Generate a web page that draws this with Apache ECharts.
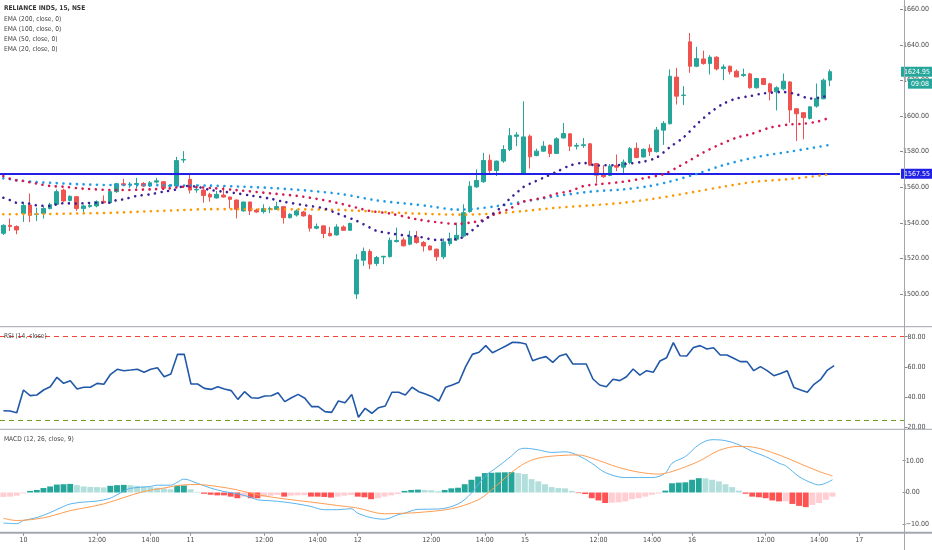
<!DOCTYPE html>
<html>
<head>
<meta charset="utf-8">
<script src="https://cdn.jsdelivr.net/npm/echarts/dist/echarts.min.js"></script>
<style>html,body{margin:0;padding:0;background:#fff}#c{width:932px;height:550px}</style>
</head>
<body>
<div id="c"></div>
<script>
// ---------- categories ----------
const days = ['9','10','11','12','15','16','17'];
const times = ['09:15','09:30','09:45','10:00','10:15','10:30','10:45','11:00','11:15','11:30','11:45','12:00','12:15','12:30','12:45','13:00','13:15','13:30','13:45','14:00','14:15','14:30','14:45','15:00','15:15'];
const tickTimes = ['09:15','12:00','14:00'];

// ---------- OHLC ----------
const open = [1534.1,1538.6,1537.9,1545.3,1550.0,1544.8,1545.3,1548.0,1550.4,1558.4,1552.6,1554.7,1548.0,1549.1,1549.5,1552.1,1551.3,1557.5,1562.0,1561.4,1561.6,1562.1,1560.7,1562.9,1563.1,1560.6,1560.7,1575.3,
1564.4,1558.5,1558.4,1556.0,1554.0,1555.6,1554.5,1552.8,1546.7,1551.7,1547.2,1546.3,1547.6,1547.6,1549.1,1542.9,1544.4,1546.1,1544.2,1537.0,1538.3,1534.1,1533.2,1537.7,1535.8,
1500.0,1519.0,1523.9,1517.2,1520.8,1521.0,1529.5,1530.4,1528.0,1532.1,1528.9,1527.0,1525.2,1520.9,1528.3,1530.8,1532.6,1546.3,1560.2,1563.1,1575.2,1569.4,1574.7,1581.2,1588.6,
1567.7,1588.7,1577.8,1580.3,1583.6,1579.0,1587.7,1590.0,1583.1,1583.4,1584.4,1573.3,1567.2,1566.6,1572.2,1571.3,1573.9,1581.9,1577.0,1581.9,1580.0,1592.1,1595.7,1621.9,1611.6,
1641.7,1628.0,1632.1,1629.5,1633.1,1626.7,1628.0,1625.2,1622.8,1623.7,1615.9,1621.1,1618.1,1613.6,1615.3,1619.2,1604.1,1601.9,1598.7,1605.6,1609.7,1620.2];
const close = [1538.6,1537.9,1536.0,1549.8,1544.2,1545.0,1548.1,1550.2,1557.5,1552.3,1554.9,1548.0,1549.5,1549.8,1551.9,1551.3,1557.5,1562.0,1561.2,1561.8,1562.1,1560.7,1562.5,1563.6,1559.5,1561.1,1575.0,1575.6,
1558.4,1558.8,1555.4,1554.5,1556.0,1554.5,1553.2,1547.6,1551.7,1546.7,1546.1,1548.0,1548.1,1549.1,1542.9,1544.8,1546.7,1543.9,1537.0,1537.9,1534.0,1532.8,1537.7,1535.8,1539.7,
1519.2,1523.9,1516.8,1520.5,1521.2,1530.2,1530.1,1527.1,1532.3,1528.9,1527.0,1524.8,1520.9,1529.3,1531.1,1533.0,1545.7,1560.6,1563.8,1575.0,1569.4,1574.7,1581.2,1589.0,1589.4,
1588.3,1577.1,1580.3,1583.1,1579.0,1587.2,1590.2,1583.1,1583.5,1583.9,1572.4,1566.8,1565.9,1571.9,1571.3,1574.1,1581.7,1576.7,1581.3,1580.0,1592.2,1595.9,1622.4,1611.2,1611.8,
1628.0,1632.3,1629.5,1633.1,1626.5,1627.6,1624.9,1622.0,1623.4,1615.9,1621.1,1617.8,1613.5,1615.9,1619.6,1603.4,1601.3,1599.1,1605.2,1609.9,1620.2,1624.95];
const low = [1533.2,1535.4,1533.6,1540.5,1540.5,1541.0,1542.4,1547.6,1550.0,1551.7,1552.0,1546.7,1545.7,1548.5,1548.7,1551.0,1550.9,1556.9,1560.7,1559.7,1559.3,1560.1,1560.1,1562.1,1558.8,1558.8,1559.7,1573.7,
1556.5,1556.9,1551.3,1551.9,1553.6,1554.1,1548.0,1542.5,1546.3,1544.4,1545.7,1545.2,1545.4,1547.2,1539.6,1542.4,1543.5,1543.5,1535.1,1536.4,1531.3,1532.3,1532.8,1535.5,1535.5,
1497.2,1515.8,1514.0,1515.8,1516.8,1520.5,1528.9,1526.7,1527.4,1528.3,1523.9,1524.6,1518.6,1519.6,1527.0,1529.8,1531.7,1545.7,1559.7,1562.5,1567.2,1566.3,1573.7,1580.3,1583.1,
1567.2,1570.5,1577.4,1579.9,1576.9,1578.8,1587.4,1580.3,1581.2,1582.1,1571.9,1562.5,1565.3,1566.2,1569.0,1567.3,1572.9,1576.3,1576.7,1577.6,1579.5,1583.8,1595.3,1606.5,1606.2,
1624.3,1627.5,1628.9,1623.4,1625.6,1620.2,1623.4,1621.9,1622.0,1615.5,1615.5,1617.4,1608.8,1603.2,1614.4,1596.3,1586.0,1586.9,1598.1,1604.7,1609.4,1616.8];
const high = [1539.2,1542.5,1538.6,1551.3,1556.5,1548.5,1549.5,1551.3,1558.8,1559.2,1555.4,1555.0,1550.2,1551.0,1552.6,1555.4,1558.2,1562.5,1564.8,1562.9,1565.3,1562.9,1563.5,1565.3,1563.5,1561.6,1577.1,1580.3,
1567.6,1561.6,1559.2,1556.9,1557.9,1560.7,1554.7,1553.2,1551.9,1551.9,1548.0,1550.4,1549.1,1551.9,1549.5,1545.4,1547.6,1546.7,1544.8,1539.6,1538.3,1537.7,1539.2,1538.6,1540.1,
1522.4,1526.1,1525.2,1521.4,1521.4,1531.7,1537.3,1531.7,1535.5,1535.4,1529.8,1527.4,1525.5,1531.3,1534.5,1540.1,1550.4,1563.4,1570.0,1579.3,1578.4,1575.0,1583.6,1593.3,1591.1,
1608.3,1589.6,1581.7,1585.9,1584.0,1588.1,1596.1,1590.5,1584.9,1587.7,1584.9,1573.7,1572.4,1573.1,1578.4,1575.6,1582.6,1585.1,1581.9,1584.1,1593.9,1597.2,1626.2,1627.1,1616.8,
1646.7,1638.9,1636.8,1634.2,1633.6,1629.0,1628.4,1626.2,1626.7,1624.3,1621.5,1621.5,1618.7,1616.8,1623.9,1619.6,1604.3,1602.3,1605.6,1618.3,1621.1,1626.2];
const hLine = 1567.55;
const countdown = '09:08';

// ---------- EMAs (read at sample bars: [bar, value]) ----------
const ema200 = [[0,1544.8],[7,1545.0],[12,1545.3],[17,1545.7],[22,1546.5],[27,1547.2],[31,1547.7],[40,1547.6],[49,1547.4],[57,1546.1],[62,1545.2],[69,1544.6],[74,1545.3],[78,1546.6],[83,1548.5],[88,1549.8],[93,1551.3],[98,1553.8],[104,1557.6],[108,1560.3],[113,1563.2],[118,1564.6],[124,1567.3]];
const ema100 = [[0,1565.0],[2,1564.0],[5,1562.9],[7,1562.5],[12,1561.6],[17,1561.2],[22,1561.2],[27,1561.0],[31,1560.9],[36,1560.3],[41,1559.4],[46,1558.0],[51,1556.0],[56,1552.6],[61,1550.6],[64,1549.3],[68,1547.4],[71,1548.0],[74,1549.4],[78,1551.9],[83,1555.0],[88,1557.5],[93,1558.8],[97,1560.7],[100,1563.2],[104,1567.5],[108,1572.4],[113,1577.0],[118,1580.0],[124,1583.8]];
const ema50 = [[0,1566.3],[1,1564.8],[2,1563.8],[3,1563.5],[5,1562.0],[7,1560.7],[9,1560.3],[12,1559.2],[17,1558.4],[22,1558.8],[25,1559.4],[27,1560.3],[29,1560.0],[31,1559.6],[35,1558.4],[40,1556.6],[45,1554.7],[50,1551.3],[55,1546.7],[58,1545.2],[62,1542.0],[65,1540.4],[68,1539.4],[70,1540.1],[72,1541.6],[73,1543.8],[74,1545.1],[76,1548.0],[78,1551.9],[81,1554.1],[83,1556.4],[85,1557.8],[87,1560.6],[89,1561.6],[93,1563.1],[96,1565.0],[99,1567.3],[101,1571.0],[103,1575.2],[105,1579.5],[107,1583.2],[110,1587.9],[112,1589.7],[115,1593.5],[118,1595.3],[120,1595.7],[122,1596.8],[124,1599.1]];
const ema20 = [[0,1554.1],[1,1552.8],[2,1551.3],[3,1551.3],[5,1549.8],[7,1549.5],[8,1550.4],[9,1551.0],[11,1550.8],[12,1551.0],[14,1551.3],[16,1551.3],[17,1552.8],[18,1553.2],[20,1555.1],[22,1556.0],[24,1557.5],[26,1558.8],[27,1560.7],[29,1560.3],[31,1558.5],[33,1557.5],[35,1556.6],[37,1555.4],[40,1553.6],[42,1551.9],[45,1550.0],[48,1548.2],[50,1545.4],[53,1541.1],[55,1537.3],[56,1535.5],[58,1534.1],[60,1533.0],[62,1532.4],[65,1530.4],[68,1530.8],[69,1532.1],[70,1534.9],[71,1537.7],[72,1541.4],[73,1543.8],[75,1549.8],[76,1553.7],[77,1556.9],[78,1560.1],[79,1562.0],[81,1565.3],[83,1568.7],[85,1572.2],[87,1573.7],[89,1572.2],[90,1572.4],[92,1572.4],[93,1572.9],[96,1574.4],[98,1576.7],[100,1582.6],[102,1587.9],[104,1595.3],[106,1601.9],[108,1606.9],[110,1609.9],[112,1611.2],[114,1612.7],[117,1613.5],[119,1612.2],[121,1609.9],[123,1610.8],[124,1612.5]];

// ---------- RSI ----------
const rsi = [31.0,30.8,29.7,44.7,41.0,41.4,44.7,46.9,53.1,49.1,50.9,45.4,46.5,46.5,49.1,48.5,55.1,58.4,57.5,57.9,58.4,56.4,58.4,59.5,53.5,55.3,68.3,68.3,48.7,48.7,45.8,45.1,46.9,45.4,44.3,38.5,43.6,39.6,39.2,40.7,40.9,42.9,37.0,39.6,41.8,39.2,33.7,33.7,30.4,29.9,37.4,36.3,41.8,26.6,32.6,29.3,33.0,34.1,43.2,43.2,41.4,46.5,43.6,
42.0,40.3,37.4,46.5,48.0,49.8,60.2,68.3,69.7,74.1,69.4,71.6,73.8,76.3,76.1,75.2,64.1,65.7,66.8,63.0,67.2,68.5,61.9,61.9,61.9,52.0,48.0,46.9,51.8,50.9,53.5,58.6,54.6,57.5,56.4,63.9,66.1,76.1,67.4,67.2,72.9,74.1,71.9,72.7,67.9,67.9,65.7,63.5,63.5,57.5,60.2,57.5,54.2,55.7,57.5,46.3,44.7,43.2,48.5,51.8,57.9,60.8];
const rsiUpper = 80, rsiLower = 25;
const rsiTicks = [20,40,60,80];

// ---------- MACD ----------
const macdLine = [[0,-9.6],[2,-9.8],[3,-8.8],[5,-7.9],[7,-6.3],[9,-4.4],[10,-3.6],[12,-3.0],[14,-2.7],[16,-1.8],[17,-0.7],[18,0.4],[19,1.3],[22,1.9],[23,2.3],[25,2.3],[26,3.2],[27,4.2],[29,2.9],[31,1.4],[33,0.3],[35,-0.4],[37,-1.5],[38,-2.3],[40,-2.6],[42,-3.0],[44,-3.6],[46,-4.4],[48,-5.4],[50,-5.4],[52,-5.1],[53,-6.5],[55,-7.9],[57,-8.4],[59,-7.0],[60,-6.5],[62,-5.3],[65,-5.2],[68,-3.6],[70,-0.2],[72,5.0],[74,8.2],[76,11.5],[77,13.4],[78,13.9],[80,13.4],[82,12.6],[84,12.8],[86,11.6],[88,9.2],[90,6.3],[93,4.7],[97,4.7],[99,6.1],[100,9.2],[102,11.3],[104,15.0],[106,16.6],[108,16.3],[110,15.0],[112,12.9],[114,11.3],[116,9.2],[117,8.4],[119,5.0],[121,2.9],[122,2.4],[124,4.0]];
const signalLine = [[0,-8.1],[2,-8.8],[5,-8.3],[7,-7.5],[10,-5.7],[12,-4.9],[15,-3.6],[18,-1.6],[21,0.3],[24,1.4],[27,2.4],[29,2.5],[32,1.9],[35,0.8],[38,-0.7],[42,-2.0],[46,-3.0],[50,-4.1],[53,-4.9],[57,-6.7],[60,-6.5],[62,-6.3],[67,-5.1],[71,-2.3],[73,0.8],[76,6.3],[78,9.2],[80,10.8],[83,11.6],[86,11.8],[88,10.8],[92,7.9],[95,6.4],[98,5.8],[100,6.6],[104,9.8],[107,13.2],[110,14.5],[112,14.3],[116,11.8],[119,9.2],[122,6.6],[124,5.2]];
const macdHist = [-1.4,-1.3,-1.0,-0.3,0.5,0.8,1.4,1.9,2.5,2.6,2.7,2.3,1.9,1.75,1.7,1.6,2.1,2.3,2.4,2.3,2.1,1.9,1.7,1.5,1.3,1.0,2.1,2.2,1.0,0.2,
-0.4,-0.7,-0.9,-0.9,-1.3,-1.8,-1.3,-1.8,-1.8,-1.3,-1.0,-0.8,-1.3,-1.0,-0.9,-0.85,-1.3,-1.3,-1.4,-1.6,-1.3,-1.0,-0.8,-1.3,-1.5,-2.1,-1.8,-1.3,-0.9,-0.5,0.5,0.8,0.9,
0.8,0.7,0.4,0.8,1.3,1.5,2.6,4.0,5.0,6.1,6.2,6.3,6.35,6.4,6.1,5.8,4.2,3.5,2.6,1.7,1.4,1.3,0.5,-0.2,-0.5,-1.8,-2.5,-3.3,-3.2,-3.1,-2.8,-2.1,-1.8,-1.3,-0.7,-0.3,
0.6,2.9,3.1,3.2,4.0,4.5,4.45,4.0,3.5,2.6,1.7,0.6,-0.4,-1.3,-1.5,-1.8,-2.5,-2.8,-2.75,-3.6,-4.2,-4.6,-3.9,-3.3,-2.3,-1.3];
const macdTicks = [-10,0,10];
const priceTicks = [1500,1520,1540,1560,1580,1600,1620,1640,1660];

const legendLines = ['RELIANCE INDS, 15, NSE','EMA (200, close, 0)','EMA (100, close, 0)','EMA (50, close, 0)','EMA (20, close, 0)'];

// ---------- build ----------
const allCats = [];
days.forEach(d => times.forEach(t => allCats.push(d + ' ' + t)));
const categories = allCats.slice(22, 22 + 135);

const UP = '#26a69a', DOWN = '#ef5350';
const ff = "'Liberation Sans Narrow','DejaVu Sans Condensed',sans-serif";
const labelColor = '#4a4a4a';
const candles = open.map((o, i) => [o, close[i], low[i], high[i]]);
const histData = macdHist.map((v, i) => {
  const p = i > 0 ? macdHist[i - 1] : -Infinity;
  let c;
  if (v >= 0) c = v > p ? '#26a69a' : '#b2dfdb';
  else c = v > p ? '#ffcdd2' : '#ff5252';
  return { value: v, itemStyle: { color: c } };
});

const isTick = (idx, val) => tickTimes.indexOf(String(val).split(' ')[1]) >= 0;
const fmtX = val => { const [d, t] = val.split(' '); return t === '09:15' ? d : t; };

const gridW = 904.5;
const grids = [
  { left: 0, top: 0, width: gridW, height: 326.7 },
  { left: 0, top: 326.7, width: gridW, height: 102.6 },
  { left: 0, top: 429.3, width: gridW, height: 103.4 }
];

const xAxes = [0, 1, 2].map(k => ({
  type: 'category', gridIndex: k, data: categories, boundaryGap: true, position: 'bottom',
  axisLine: { show: false, onZero: false },
  axisTick: { show: k === 2, interval: isTick, alignWithLabel: true, length: 3, lineStyle: { color: '#888' } },
  axisLabel: { show: k === 2, interval: isTick, formatter: fmtX, color: labelColor, fontSize: 7, fontFamily: ff, margin: 4 },
  splitLine: { show: false }
}));

const yBase = (k, min, max, ticks, fmt) => ({
  type: 'value', gridIndex: k, position: 'right', min: min, max: max, scale: true,
  axisLine: { show: false },
  axisTick: { show: true, customValues: ticks, length: 3, lineStyle: { color: '#888' } },
  axisLabel: { customValues: ticks, formatter: fmt, color: labelColor, fontSize: 7, fontFamily: ff, margin: 3 },
  splitLine: { show: false }
});
const f2 = v => (v < 0 ? '\u2212' : '') + Math.abs(v).toFixed(2);

const dotLine = (name, data, color) => ({
  name: name, type: 'line', xAxisIndex: 0, yAxisIndex: 0, data: data,
  showSymbol: false, silent: true, z: 5, smooth: 0.3,
  lineStyle: { color: color, width: 2.6, type: [0.01, 6.7], cap: 'round' }
});

const tStyle = (bold) => ({ fontSize: 6.6, fontWeight: bold ? 'bold' : 'normal', color: bold ? '#333' : '#444', fontFamily: ff });
const titles = legendLines.map((t, i) => ({
  text: t, left: 4, top: (i === 0 ? 5 : 7 + i * 10 - 1), padding: 0, textStyle: tStyle(i === 0)
}));
titles.push({ text: 'RSI (14, close)', left: 4, top: 333, padding: 0, textStyle: tStyle(false) });
titles.push({ text: 'MACD (12, 26, close, 9)', left: 4, top: 436, padding: 0, textStyle: tStyle(false) });

const sepStyle = { stroke: '#a3a6af', lineWidth: 1 };
const option = {
  animation: false,
  backgroundColor: '#ffffff',
  title: titles,
  grid: grids,
  xAxis: xAxes,
  yAxis: [
    yBase(0, 1481.63, 1665.23, priceTicks, v => v.toFixed(2)),
    yBase(1, 18.68, 86.62, rsiTicks, v => v.toFixed(2)),
    yBase(2, -12.64, 19.87, macdTicks, f2)
  ],
  graphic: [
    { type: 'line', shape: { x1: 0, y1: 326.7, x2: 932, y2: 326.7 }, style: sepStyle, silent: true, z: 10 },
    { type: 'line', shape: { x1: 0, y1: 429.3, x2: 932, y2: 429.3 }, style: sepStyle, silent: true, z: 10 },
    { type: 'line', shape: { x1: 0, y1: 532.7, x2: 932, y2: 532.7 }, style: { stroke: '#a3a6af', lineWidth: 2 }, silent: true, z: 10 },
    { type: 'line', shape: { x1: gridW, y1: 0, x2: gridW, y2: 550 }, style: sepStyle, silent: true, z: 10 }
  ],
  series: [
    {
      name: 'RELIANCE', type: 'candlestick', xAxisIndex: 0, yAxisIndex: 0, data: candles,
      barWidth: 4.4, z: 3,
      itemStyle: { color: UP, color0: DOWN, borderColor: UP, borderColor0: DOWN, borderWidth: 1 },
      markLine: {
        symbol: 'none', silent: true, animation: false,
        data: [
          { yAxis: hLine, lineStyle: { color: '#2020e6', width: 2, type: 'solid' },
            label: { show: true, position: 'end', distance: 1, formatter: p => p.value.toFixed(2),
              color: '#fff', backgroundColor: '#2020e6', padding: [2, 3, 1, 3], fontSize: 7, fontFamily: ff } }
        ]
      }
    },
    {
      name: 'LastPrice', type: 'line', xAxisIndex: 0, yAxisIndex: 0, data: [], silent: true,
      markLine: {
        symbol: 'none', silent: true, animation: false,
        data: [
          { yAxis: close[close.length - 1], lineStyle: { color: 'rgba(38,166,154,0)', width: 1 },
            label: { show: true, position: 'end', distance: 1,
              formatter: p => '{a|' + p.value.toFixed(2) + '}',
              rich: { a: { color: '#fff', backgroundColor: UP, padding: [2, 3, 1, 3], fontSize: 7, fontFamily: ff } } } },
          { yAxis: close[close.length - 1], lineStyle: { color: 'rgba(38,166,154,0)', width: 1 },
            label: { show: true, position: 'end', distance: 8, offset: [0, 12],
              formatter: () => '{b|' + countdown + '}',
              rich: { b: { color: '#fff', backgroundColor: UP, padding: [2, 3, 1, 3], fontSize: 7, fontFamily: ff } } } }
        ]
      }
    },
    dotLine('EMA200', ema200, '#ff9800'),
    dotLine('EMA100', ema100, '#1e9be6'),
    dotLine('EMA50', ema50, '#d6184f'),
    dotLine('EMA20', ema20, '#3d1f96'),
    {
      name: 'RSI', type: 'line', xAxisIndex: 1, yAxisIndex: 1, data: rsi, showSymbol: false, silent: true,
      lineStyle: { color: '#2158a8', width: 1.6 },
      markLine: {
        symbol: 'none', silent: true, label: { show: false },
        data: [
          { yAxis: rsiUpper, lineStyle: { color: '#f44336', type: [5, 4], width: 1.2 } },
          { yAxis: rsiLower, lineStyle: { color: '#6b9e1f', type: [5, 4], width: 1.2 } }
        ]
      }
    },
    {
      name: 'Histogram', type: 'bar', xAxisIndex: 2, yAxisIndex: 2, data: histData,
      barCategoryGap: '12%', silent: true, z: 2
    },
    {
      name: 'MACD', type: 'line', xAxisIndex: 2, yAxisIndex: 2, data: macdLine, showSymbol: false, silent: true,
      smooth: 0.35, lineStyle: { color: '#5ab4ee', width: 1 }, z: 4
    },
    {
      name: 'Signal', type: 'line', xAxisIndex: 2, yAxisIndex: 2, data: signalLine, showSymbol: false, silent: true,
      smooth: 0.35, lineStyle: { color: '#ff9d52', width: 1 }, z: 4
    }
  ]
};

const chart = echarts.init(document.getElementById('c'), null, { renderer: 'canvas' });
chart.setOption(option);
</script>
</body>
</html>
